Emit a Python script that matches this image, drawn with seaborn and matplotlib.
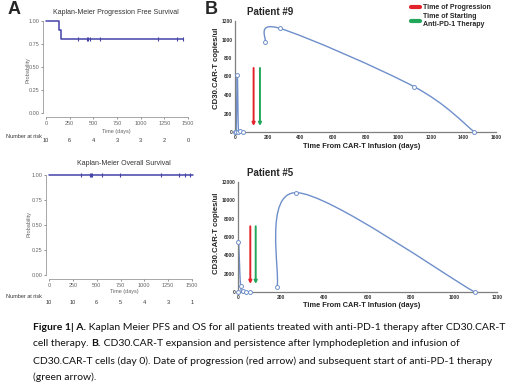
import numpy as np
import seaborn as sns
import matplotlib.pyplot as plt
from matplotlib import transforms
from matplotlib.path import Path
from matplotlib.patches import PathPatch
from matplotlib.lines import Line2D

W, H = 520, 384

# ---- panel A: Kaplan-Meier curves
km_ticks = [0, 250, 500, 750, 1000, 1250, 1500]
pfs_time = [0, 137, 158, 1450]
pfs_surv = [1.0, 0.9, 0.8, 0.8]
pfs_cens = [335, 433, 447, 462, 570, 1183, 1380, 1443]
pfs_risk = [10, 6, 4, 3, 3, 2, 0]

os_time = [0, 1510]
os_surv = [1.0, 1.0]
os_cens = [336, 425, 439, 453, 561, 749, 1175, 1364, 1427, 1479]
os_risk = [10, 10, 6, 5, 4, 3, 1]

# ---- panel B: CAR-T copies per patient (early + late series)
p9_early_day = [0, 7, 14, 21, 30, 48]
p9_early_val = [0, 0, 614, 5, 10, 0]
p9_late_day = [184, 276, 1100, 1468]
p9_late_val = [972, 1120, 488, 0]
p9_prog, p9_pd1 = 114, 153

p5_early_day = [0, 2, 12, 23, 39, 54]
p5_early_val = [0, 5455, 620, 70, 0, 0]
p5_late_day = [181, 271, 1096]
p5_late_val = [545, 10836, 0]
p5_prog, p5_pd1 = 57, 82

km_col = '#4343a8'
car_col = '#6f8fca'
red, green = '#e3232c', '#22a65a'
grey = '#666666'

sns.set_theme(style="white")
plt.rcParams['font.family'] = ['Liberation Sans', 'DejaVu Sans']

fig = plt.figure(figsize=(W / 100, H / 100), dpi=100)


def fx(x):
    return x / W


def fy(y):
    return 1 - y / H


def px_axes(l, t, r, b):
    return fig.add_axes([l / W, 1 - b / H, (r - l) / W, (b - t) / H])


def km_panel(ax, title, time, surv, cens, risk, tpos, ylab_pos, xlab_y, risk_y):
    sns.lineplot(x=time, y=surv, drawstyle='steps-post', estimator=None, color=km_col,
                 lw=1.1, ax=ax, clip_on=False)
    idx = np.searchsorted(time, cens, side='right') - 1
    sns.scatterplot(x=cens, y=np.array(surv)[idx], marker='|', s=10, color=km_col,
                    linewidth=0.8, ax=ax, clip_on=False)
    ax.set_xlim(0, 1500)
    ax.set_ylim(0, 1)
    ax.set_xticks(km_ticks)
    ax.set_yticks([0, .25, .5, .75, 1], labels=['0.00', '0.25', '0.50', '0.75', '1.00'],
                  rotation=90, va='center')
    ax.tick_params(labelsize=4, colors=grey, length=1.5, width=0.5, pad=1, left=True, bottom=True)
    sns.despine(ax=ax, offset={'left': 2, 'bottom': 3}, trim=True)
    for s in ('left', 'bottom'):
        ax.spines[s].set_color('#999999')
        ax.spines[s].set_linewidth(0.6)
    ax.set_xlabel('')
    fig.text(fx(tpos[0]), fy(tpos[1]), title, ha='center', va='center', fontsize=5, color='#333333')
    fig.text(fx(ylab_pos[0]), fy(ylab_pos[1]), 'Probability', ha='center', va='center',
             rotation=90, fontsize=4, color=grey)
    fig.text(fx(tpos[0]), fy(xlab_y), 'Time (days)', ha='center', va='center', fontsize=4, color=grey)
    fig.text(fx(6), fy(risk_y - 5), 'Number at risk', ha='left', va='center', fontsize=4, color='#333333')
    tr = transforms.blended_transform_factory(ax.transData, fig.transFigure)
    for t, n in zip(km_ticks, risk):
        ax.text(t, fy(risk_y), str(n), transform=tr, ha='center', va='center', fontsize=4, color='#333333')


def smooth_path(xs, ys):
    # Excel-like smoothed line: cubic Bezier through the points
    pts = np.column_stack([xs, ys]).astype(float)
    n = len(pts)
    verts, codes = [pts[0]], [Path.MOVETO]
    for i in range(n - 1):
        p0, p1 = pts[max(i - 1, 0)], pts[i]
        p2, p3 = pts[i + 1], pts[min(i + 2, n - 1)]
        verts += [p1 + (p2 - p0) / 6, p2 - (p3 - p1) / 6, p2]
        codes += [Path.CURVE4] * 3
    return Path(verts, codes)


def car_panel(ax, series, prog, pd1, arrow_top, arrow_bot, xmax, xstep, ymax, ystep,
              xlab_coords, ylab_coords):
    for d, v in series:
        ax.add_patch(PathPatch(smooth_path(d, v), fill=False, ec=car_col, lw=1))
        sns.scatterplot(x=d, y=v, marker='o', s=8, color='white', edgecolor=car_col,
                        linewidth=0.7, ax=ax, zorder=3, clip_on=False)
    for day, c in [(prog, red), (pd1, green)]:
        ax.annotate('', xy=(day, arrow_bot), xytext=(day, arrow_top),
                    arrowprops=dict(arrowstyle='-|>', color=c, lw=1.4, mutation_scale=4,
                                    shrinkA=0, shrinkB=0))
    ax.set_xlim(0, xmax)
    ax.set_ylim(0, ymax)
    ax.set_xticks(np.arange(0, xmax + 1, xstep))
    ax.set_yticks(np.arange(0, ymax + 1, ystep))
    ax.tick_params(labelsize=3.5, colors='#333333', length=0, pad=2)
    for lab in ax.get_xticklabels() + ax.get_yticklabels():
        lab.set_fontweight('bold')
    sns.despine(ax=ax)
    for s in ('left', 'bottom'):
        ax.spines[s].set_color('#7f7f7f')
        ax.spines[s].set_linewidth(0.9)
    ax.set_xlabel('Time From CAR-T Infusion (days)', fontsize=5.3, fontweight='bold', color='#222222')
    ax.set_ylabel('CD30.CAR-T copies/ul', fontsize=5.6, fontweight='bold', color='#222222')
    ax.xaxis.set_label_coords(*xlab_coords)
    ax.yaxis.set_label_coords(*ylab_coords)


ax_pfs = px_axes(46, 21, 188, 113)
km_panel(ax_pfs, 'Kaplan-Meier Progression Free Survival', pfs_time, pfs_surv, pfs_cens,
         pfs_risk, (116, 13), (28, 70), 132, 141)

ax_os = px_axes(49, 175, 192, 275)
km_panel(ax_os, 'Kaplan-Meier Overall Survival', os_time, os_surv, os_cens,
         os_risk, (124, 164), (29, 224), 291.5, 302)

ax9 = px_axes(235, 21, 496, 132)
car_panel(ax9, [(p9_early_day, p9_early_val), (p9_late_day, p9_late_val)], p9_prog, p9_pd1,
          692, 65, 1600, 200, 1200, 200, (0.487, -0.10), (-0.056, 0.572))

ax5 = px_axes(238, 182, 497, 292)
car_panel(ax5, [(p5_early_day, p5_early_val), (p5_late_day, p5_late_val)], p5_prog, p5_pd1,
          7170, 880, 1200, 200, 12000, 2000, (0.479, -0.09), (-0.07, 0.536))

fig.text(fx(247), fy(12), 'Patient #9', ha='left', va='center', fontsize=7, fontweight='bold')
fig.text(fx(247), fy(173), 'Patient #5', ha='left', va='center', fontsize=7, fontweight='bold')
fig.text(fx(14), fy(9), 'A', ha='center', va='center', fontsize=13, fontweight='bold')
fig.text(fx(211), fy(9), 'B', ha='center', va='center', fontsize=13, fontweight='bold')

handles = [Line2D([], [], color=red, lw=3), Line2D([], [], color=green, lw=3)]
fig.legend(handles, ['Time of Progression', 'Time of Starting\nAnti-PD-1 Therapy'],
           loc='upper left', bbox_to_anchor=(fx(405), fy(-1.5)), frameon=False,
           prop={'size': 5, 'weight': 'bold'}, handlelength=1.3, handletextpad=0.5,
           labelspacing=0.3, borderpad=0.3)

# ---- caption with bold fragments
cap_lines = [
    [('Figure 1| A.', 'bold'), (' Kaplan Meier PFS and OS for all patients treated with anti-PD-1 therapy after CD30.CAR-T', 'normal')],
    [('cell therapy. ', 'normal'), ('B.', 'bold'), (' CD30.CAR-T expansion and persistence after lymphodepletion and infusion of', 'normal')],
    [('CD30.CAR-T cells (day 0). Date of progression (red arrow) and subsequent start of anti-PD-1 therapy', 'normal')],
    [('(green arrow).', 'normal')],
]
cap_y = [327, 344, 361, 377]
renderer = fig.canvas.get_renderer()
for parts, y in zip(cap_lines, cap_y):
    x = 33
    for txt, w in parts:
        t = fig.text(fx(x), fy(y), txt, ha='left', va='center', fontsize=7.5, fontweight=w,
                     family=['Lato', 'DejaVu Sans'], color='#111111')
        x += t.get_window_extent(renderer).width

fig.savefig('out.png', dpi=100)
